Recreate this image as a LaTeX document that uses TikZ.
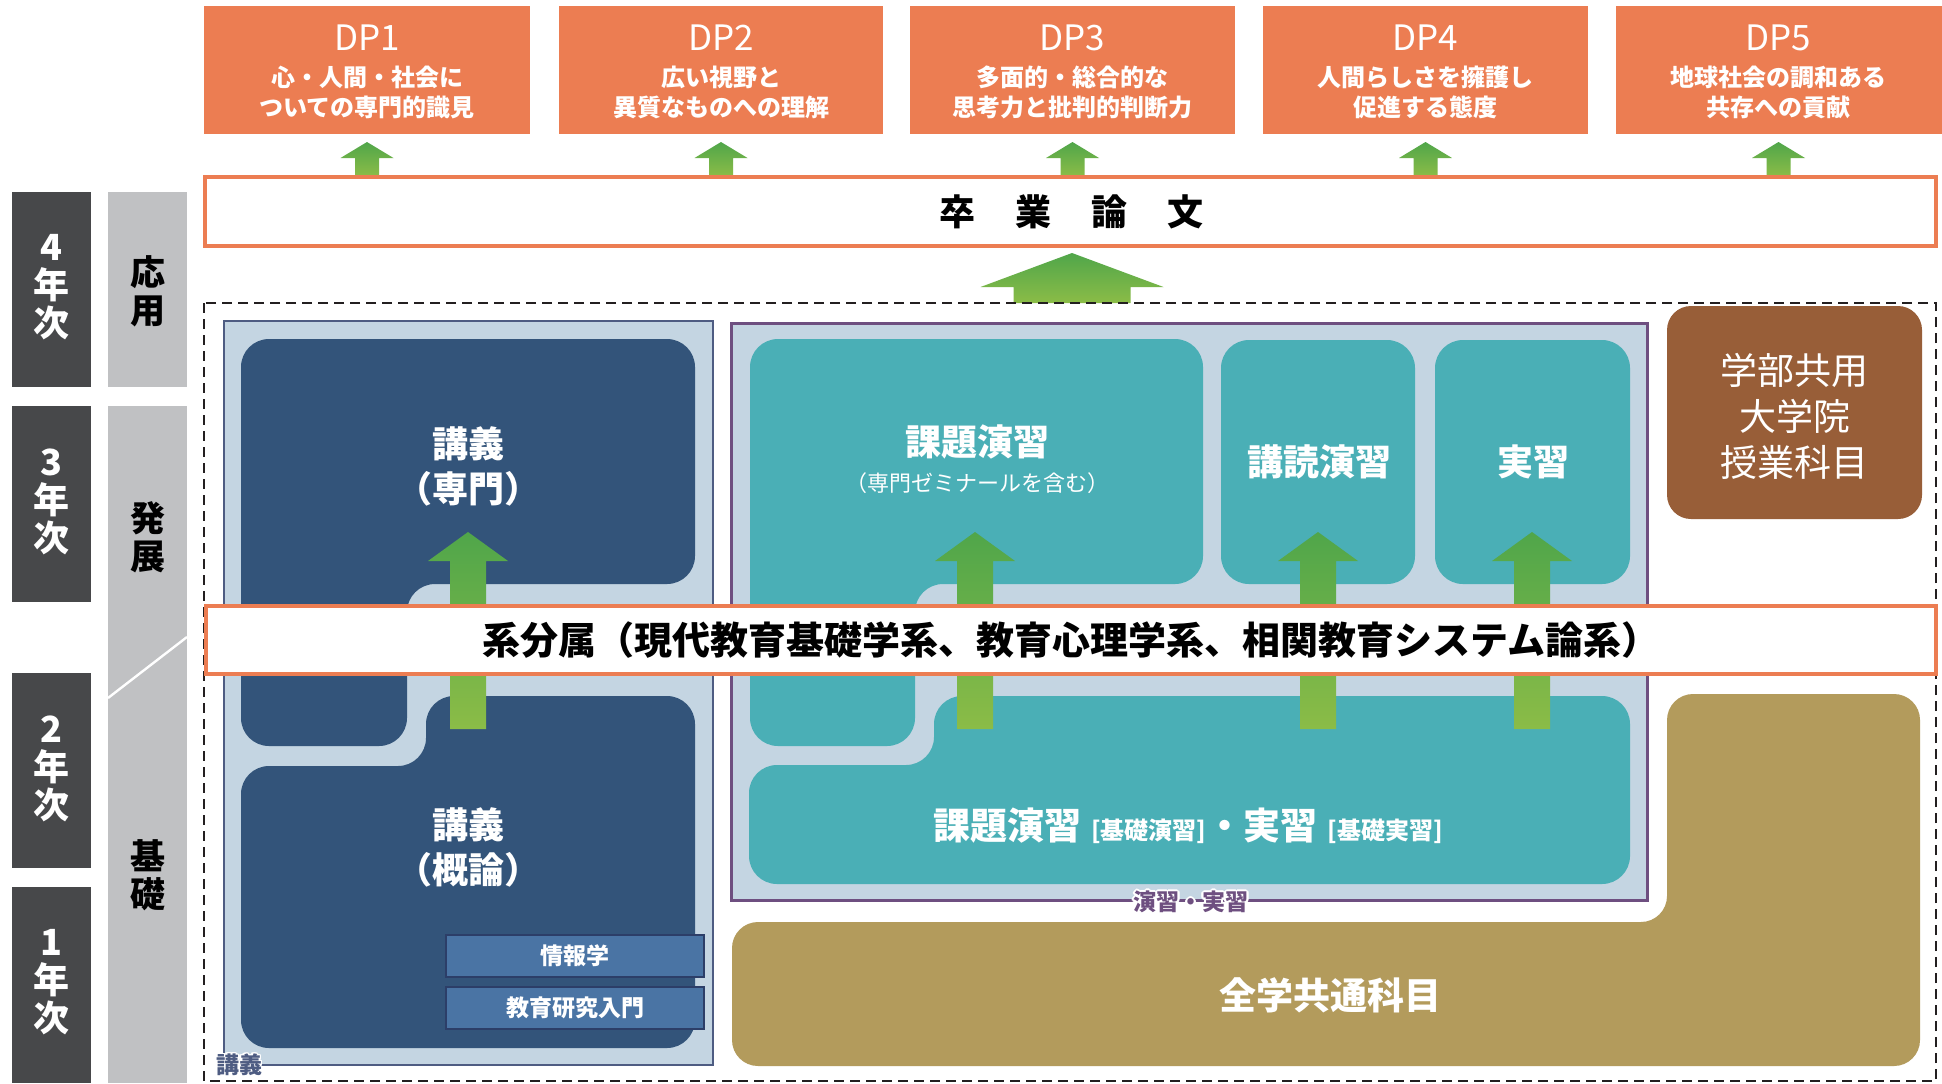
\documentclass[tikz,border=0pt]{standalone}
\usepackage{fontspec}
\setmainfont{Noto Sans CJK JP}
\usepackage[copies]{contour}
\contourlength{0.9pt}
\usetikzlibrary{fit}
\definecolor{dporange}{RGB}{236,125,82}
\definecolor{yeargray}{RGB}{71,72,74}
\definecolor{stagegray}{RGB}{192,193,195}
\definecolor{panelblue}{RGB}{196,213,226}
\definecolor{slate}{RGB}{78,92,130}
\definecolor{navy}{RGB}{51,84,122}
\definecolor{infoblue}{RGB}{74,116,164}
\definecolor{infoborder}{RGB}{44,62,104}
\definecolor{purpleb}{RGB}{110,79,128}
\definecolor{tealc}{RGB}{74,175,182}
\definecolor{brownc}{RGB}{152,94,56}
\definecolor{olivec}{RGB}{179,155,92}
\definecolor{gdark}{RGB}{80,166,74}
\definecolor{glight}{RGB}{139,188,71}
\definecolor{dashblack}{RGB}{35,31,32}
\newcommand{\garrow}[6]{\shade[top color=gdark, bottom color=glight] (#1,#2) -- ({#1+#5},#3) -- ({#1+#6},#3) -- ({#1+#6},#4) -- ({#1-#6},#4) -- ({#1-#6},#3) -- ({#1-#5},#3) -- cycle;}
\begin{document}
\begin{tikzpicture}[x=0.5pt,y=-0.5pt,
  box/.style={inner sep=0pt, outer sep=0pt},
  dpbox/.style={box, fill=dporange},
  dptitle/.style={text=white, inner sep=0pt, font=\fontsize{17.5}{20}\selectfont},
  dpsub/.style={text=white, align=center, inner sep=0pt, font=\fontsize{12}{15}\selectfont\bfseries},
  yearbox/.style={box, fill=yeargray},
  yeartext/.style={text=white, align=center, inner sep=0pt, font=\fontsize{18}{19}\selectfont\bfseries},
  stagebox/.style={box, fill=stagegray},
  stagetext/.style={text=black, align=center, inner sep=0pt, font=\fontsize{17.5}{19}\selectfont\bfseries},
  orangeframe/.style={box, draw=dporange, fill=white},
  bigwhite/.style={text=white, align=center, inner sep=0pt, font=\fontsize{18}{22.5}\selectfont\bfseries},
  smallwhite/.style={text=white, inner sep=0pt, font=\fontsize{11}{13}\selectfont},
  infobox/.style={box, fill=infoblue, draw=infoborder, line width=1pt},
  infotext/.style={text=white, inner sep=0pt, font=\fontsize{11.5}{13}\selectfont\bfseries},
  lbl/.style={inner sep=0pt, font=\fontsize{11.5}{13}\selectfont\bfseries},
  rc/.style={rounded corners=14pt}
]
\useasboundingbox (0,0) rectangle (1942,1083);
\fill[white] (0,0) rectangle (1942,1083);

% DP boxes
\node[dpbox, fit={(204,6)(530,134)}] (dp1) {};
\node[dpbox, fit={(559,6)(883,134)}] (dp2) {};
\node[dpbox, fit={(910,6)(1235,134)}] (dp3) {};
\node[dpbox, fit={(1263,6)(1588,134)}] (dp4) {};
\node[dpbox, fit={(1616,6)(1942,134)}] (dp5) {};
\node[dptitle] (dp1t) at (367,37.5) {DP1};
\node[dptitle] (dp2t) at (721,37.5) {DP2};
\node[dptitle] (dp3t) at (1072.5,37.5) {DP3};
\node[dptitle] (dp4t) at (1425.5,37.5) {DP4};
\node[dptitle] (dp5t) at (1778.5,37.5) {DP5};
\node[dpsub] (dp1s) at (367,92) {心・人間・社会に\\ついての専門的識見};
\node[dpsub] (dp2s) at (721,92) {広い視野と\\異質なものへの理解};
\node[dpsub] (dp3s) at (1072.5,92) {多面的・総合的な\\思考力と批判的判断力};
\node[dpsub] (dp4s) at (1425.5,92) {人間らしさを擁護し\\促進する態度};
\node[dpsub] (dp5s) at (1778.5,92) {地球社会の調和ある\\共存への貢献};

% small arrows
\garrow{367}{142}{158}{176}{26.5}{12}
\garrow{721}{142}{158}{176}{26.5}{12}
\garrow{1072.5}{142}{158}{176}{26.5}{12}
\garrow{1425.5}{142}{158}{176}{26.5}{12}
\garrow{1778.5}{142}{158}{176}{26.5}{12}

% graduation thesis
\node[orangeframe, line width=2pt, fit={(205,177)(1936,246)}] (thesis) {};
\node[inner sep=0pt, text=black, font=\fontsize{18}{20}\selectfont\bfseries] (thesist) at (1071,212) {卒\hspace{20pt}業\hspace{20pt}論\hspace{20pt}文};

% big arrow
\garrow{1072}{253}{287}{303}{91.5}{58.5}

% year and stage column
\node[yearbox, fit={(12,192)(91,387)}] (y4) {};
\node[yearbox, fit={(12,406)(91,602)}] (y3) {};
\node[yearbox, fit={(12,673)(91,868)}] (y2) {};
\node[yearbox, fit={(12,887)(91,1083)}] (y1) {};
\node[yeartext] (y4t) at (51.5,287) {4\\年\\次};
\node[yeartext] (y3t) at (51.5,502) {3\\年\\次};
\node[yeartext] (y2t) at (51.5,769) {2\\年\\次};
\node[yeartext] (y1t) at (51.5,982) {1\\年\\次};
\node[stagebox, fit={(108,192)(187,387)}] (sapp) {};
\node[stagebox, fit={(108,406)(187,1083)}] (sbase) {};
\draw[white, line width=1.2pt] (108,698) -- (187,637);
\node[stagetext] (sappt) at (147.5,291) {応\\用};
\node[stagetext] (sdev) at (147.5,537) {発\\展};
\node[stagetext] (sfund) at (147.5,875) {基\\礎};

% dashed frame
\draw[dashblack, line width=1.3pt, dash pattern=on 5pt off 3pt] (204,303) rectangle (1936,1081);

% left panel: lectures
\node[box, fill=panelblue, draw=slate, line width=1pt, fit={(224,321)(713,1065)}] (lpanel) {};
\fill[navy, rc] (241,339) -- (695,339) -- (695,584) -- (407,584) -- (407,746) -- (241,746) -- cycle;
\fill[navy, rc] (426,696) -- (695,696) -- (695,1048) -- (241,1048) -- (241,766) -- (426,766) -- cycle;
\node[bigwhite] (lec1) at (468,466) {講義\\（専門）};
\node[bigwhite] (lec2) at (468,847) {講義\\（概論）};
\node[infobox, fit={(446,935)(704,977)}] (info) {};
\node[infobox, fit={(446,987)(704,1029)}] (intro) {};
\node[infotext] (infot) at (575,956) {情報学};
\node[infotext] (introt) at (575,1008) {教育研究入門};
\node[lbl, text=slate] (lecl) at (239,1066) {\contour{white}{講義}};

% middle panel: exercises
\node[box, fill=panelblue, draw=purpleb, line width=1.5pt, fit={(731,323)(1647,900)}] (mpanel) {};
\fill[tealc, rc] (750,339) -- (1203,339) -- (1203,584) -- (915,584) -- (915,746) -- (750,746) -- cycle;
\fill[tealc, rc] (1221,340) rectangle (1415,584);
\fill[tealc, rc] (1435,340) rectangle (1630,584);
\fill[tealc, rc] (934,696) -- (1630,696) -- (1630,884) -- (749,884) -- (749,765) -- (934,765) -- cycle;
\node[bigwhite] (kadai) at (977,442) {課題演習};
\node[smallwhite] (kadais) at (977,483) {（専門ゼミナールを含む）};
\node[bigwhite] (koudoku) at (1319,462) {講読演習};
\node[bigwhite] (jisshu) at (1533,462) {実習};
\node[text=white, inner sep=0pt, font=\fontsize{18.5}{20}\selectfont\bfseries] (kiso) at (1188,826) {課題演習\hspace{5pt}{\fontsize{12}{14}\selectfont [基礎演習]}・実習\hspace{5pt}{\fontsize{12}{14}\selectfont [基礎実習]}};
\node[lbl, text=purpleb] (exl) at (1191,903) {\contour{white}{演習・実習}};

% right boxes
\fill[brownc, rounded corners=12pt] (1667,306) rectangle (1922,519);
\node[text=white, align=center, inner sep=0pt, font=\fontsize{18.5}{23}\selectfont] (grad) at (1794.5,416) {学部共用\\大学院\\授業科目};
\fill[olivec, rounded corners=13pt] (1667,694) -- (1920,694) -- (1920,1066) -- (732,1066) -- (732,922) -- (1667,922) -- cycle;
\node[text=white, inner sep=0pt, font=\fontsize{18.5}{20}\selectfont\bfseries] (common) at (1330,995) {全学共通科目};

% arrows through band
\garrow{468}{532}{561}{729}{40}{18}
\garrow{975}{532}{561}{729}{40}{18}
\garrow{1318}{532}{561}{729}{40}{18}
\garrow{1532}{532}{561}{729}{40}{18}

% band
\node[orangeframe, line width=2.2pt, fit={(206,606)(1936,674)}] (band) {};
\node[inner sep=0pt, text=black, font=\fontsize{19}{21}\selectfont\bfseries] (bandt) at (1071,640) {系分属（現代教育基礎学系、教育心理学系、相関教育システム論系）};
\end{tikzpicture}
\end{document}
